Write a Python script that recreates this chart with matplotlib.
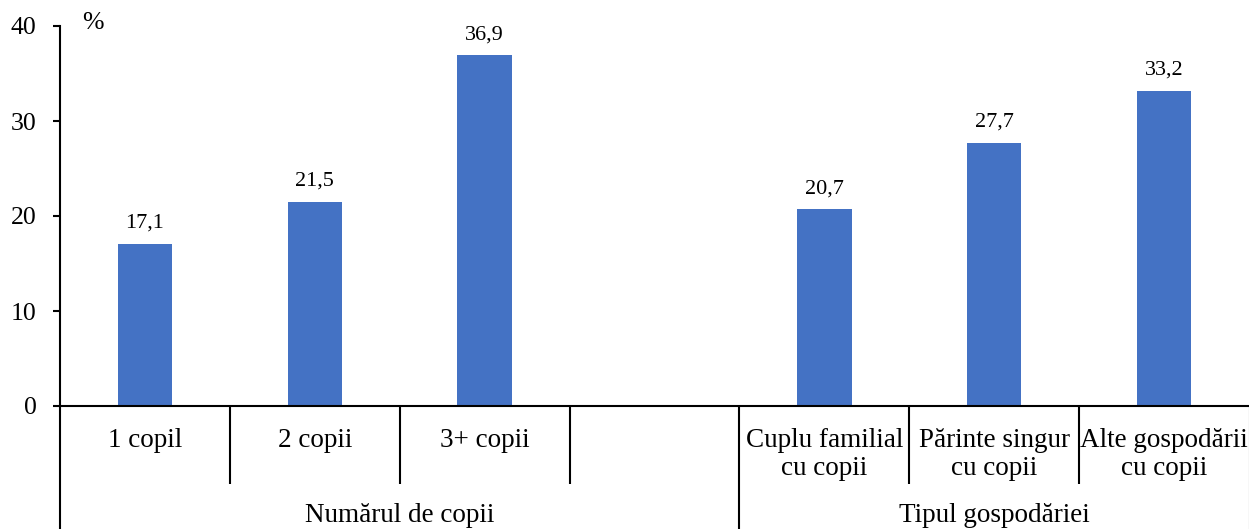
import matplotlib
matplotlib.use("Agg")
import matplotlib.pyplot as plt
from matplotlib.transforms import blended_transform_factory

plt.rcParams['font.family'] = ['Liberation Serif', 'DejaVu Serif']

categories = ["1 copil", "2 copii", "3+ copii", "", "Cuplu familial\ncu copii",
              "Părinte singur\ncu copii", "Alte gospodării\ncu copii"]
values = [17.1, 21.5, 36.9, None, 20.7, 27.7, 33.2]
value_labels = ["17,1", "21,5", "36,9", "", "20,7", "27,7", "33,2"]
groups = ["Numărul de copii", "Tipul gospodăriei"]
group_spans = [(0, 3), (4, 6)]  # category index ranges (inclusive)
y_ticks = [0, 10, 20, 30, 40]

W, H = 1249, 529
fig = plt.figure(figsize=(W / 100, H / 100), dpi=100)
ax = fig.add_axes([60 / W, 1 - 406 / H, (W - 60) / W, 380 / H])

xs = [i for i, v in enumerate(values) if v is not None]
vs = [v for v in values if v is not None]
ax.bar(xs, vs, width=0.32, color="#4472C4", zorder=2)

for x, v, lab in zip(range(len(values)), values, value_labels):
    if v is None:
        continue
    ax.annotate(lab, (x, v), xytext=(0, 8), textcoords="offset points",
                ha="center", va="bottom", fontsize=16)

ax.set_xlim(-0.5, len(categories) - 0.5)
ax.set_ylim(0, 40)
ax.set_yticks(y_ticks)
ax.set_yticklabels([str(t) for t in y_ticks], fontsize=18.5)
ax.tick_params(axis="y", length=5, width=1.5, pad=12, direction="out")
ax.set_xticks([])

for s in ["top", "right"]:
    ax.spines[s].set_visible(False)
ax.spines["left"].set_linewidth(1.5)
ax.spines["bottom"].set_linewidth(1.5)

trans = blended_transform_factory(ax.transData, ax.transAxes)
short_y = -78 / 380
long_y = -123 / 380
label_y = -22 / 380
group_y = -110 / 380

# category labels
for i, c in enumerate(categories):
    if c:
        ax.text(i, label_y, c, transform=trans, ha="center", va="top",
                fontsize=19.5, linespacing=1.14)

# dividers
long_edges = set()
for a, b in group_spans:
    long_edges.add(a - 0.5)
    long_edges.add(b + 0.5)
for k in range(len(categories) + 1):
    xe = k - 0.5
    if xe in long_edges and xe < len(categories) - 0.5:
        ax.plot([xe, xe], [0, long_y], transform=trans, color="black", lw=1.5,
                clip_on=False, solid_capstyle="butt")
    elif xe < len(categories) - 0.5:
        ax.plot([xe, xe], [0, short_y], transform=trans, color="black", lw=1.5,
                clip_on=False, solid_capstyle="butt")
ax.plot([len(categories) - 0.5] * 2, [0, long_y], transform=trans,
        color="#d9d9d9", lw=1, clip_on=False)

# group labels
for g, (a, b) in zip(groups, group_spans):
    xc = (a - 0.5 + b + 0.5) / 2
    ax.text(xc, group_y, g, transform=trans, ha="center", va="center",
            fontsize=19.5)

# unit label
fig.text(93 / W, 1 - 23 / H, "%", ha="center", va="center", fontsize=18.5)

fig.savefig("out.png", dpi=100)
